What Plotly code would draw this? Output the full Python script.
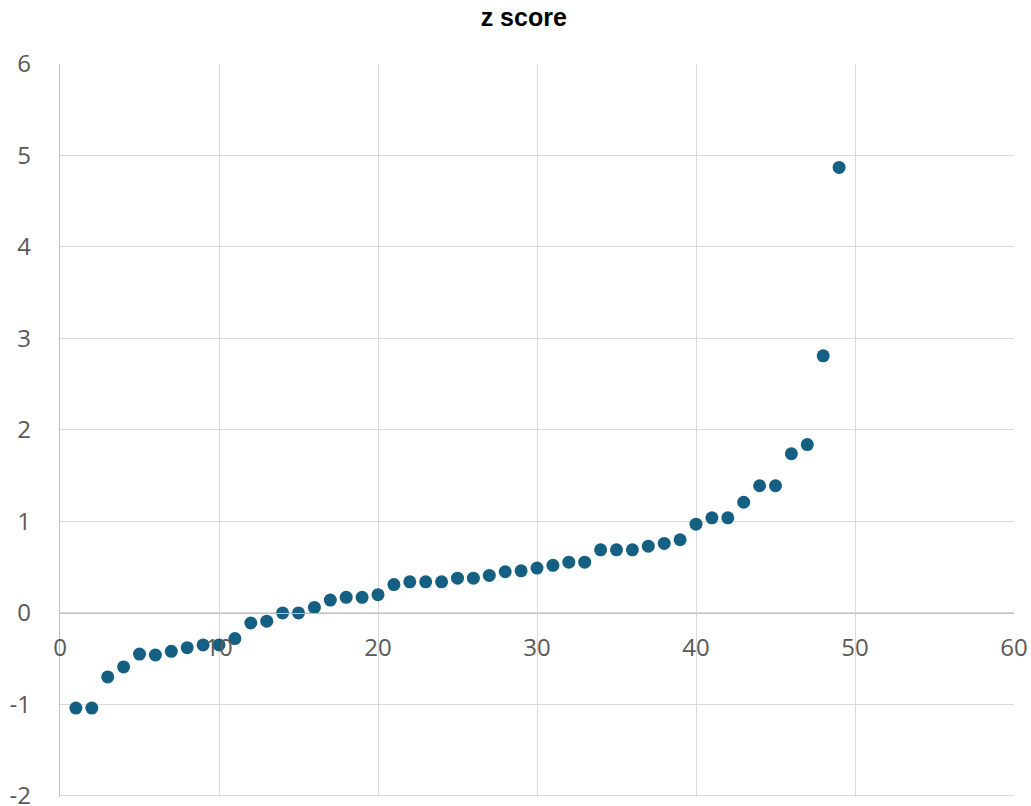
import plotly.graph_objects as go

x_vals = list(range(1, 50))
z_scores = [-1.04, -1.04, -0.70, -0.59, -0.45, -0.46, -0.42, -0.38, -0.35, -0.35,
            -0.28, -0.11, -0.09, 0.00, 0.00, 0.06, 0.14, 0.17, 0.17, 0.20,
            0.31, 0.34, 0.34, 0.34, 0.38, 0.38, 0.41, 0.45, 0.46, 0.49,
            0.52, 0.555, 0.555, 0.69, 0.69, 0.69, 0.73, 0.76, 0.80, 0.97,
            1.04, 1.04, 1.21, 1.39, 1.39, 1.74, 1.84, 2.81, 4.87]
x_ticks = [0, 10, 20, 30, 40, 50, 60]
y_ticks = [-2, -1, 0, 1, 2, 3, 4, 5, 6]

Y_MIN, Y_MAX = -2.012, 6

fig = go.Figure(go.Scatter(
    x=x_vals, y=z_scores, mode="markers",
    marker=dict(size=13, color="#156082"),
    hoverinfo="x+y",
))

fig.update_layout(
    width=1031, height=806,
    margin=dict(l=60, r=17, t=64, b=9),
    paper_bgcolor="white", plot_bgcolor="white",
    showlegend=False,
    title=dict(text="<b>z score</b>", x=0.508, xanchor="center", y=0.978, yanchor="middle",
               font=dict(family="Liberation Sans, Arial", size=25, color="black")),
    font=dict(family="Open Sans", color="#595959"),
)
fig.update_xaxes(
    range=[0, 60], tickvals=x_ticks, ticktext=[str(v) for v in x_ticks],
    showgrid=True, gridcolor="#d9d9d9", gridwidth=1,
    zeroline=False, showline=True, linecolor="#bfbfbf", linewidth=1.3,
    anchor="free", position=(0 - Y_MIN) / (Y_MAX - Y_MIN), ticks="", ticklabelstandoff=13,
    ticklabeloverflow="allow",
    tickfont=dict(family="Open Sans", size=24, color="#595959"), automargin=False,
)
fig.update_yaxes(
    range=[Y_MIN, Y_MAX], tickvals=y_ticks, ticktext=[str(v) for v in y_ticks],
    showgrid=True, gridcolor="#d9d9d9", gridwidth=1,
    zeroline=False, showline=True, linecolor="#bfbfbf", linewidth=1.3,
    ticks="", ticklabelstandoff=23,
    ticklabeloverflow="allow",
    tickfont=dict(family="Open Sans", size=24, color="#595959"), automargin=False,
)

fig.write_html("out.html", config={"displayModeBar": False},
               post_script="document.body.style.margin='0';")
